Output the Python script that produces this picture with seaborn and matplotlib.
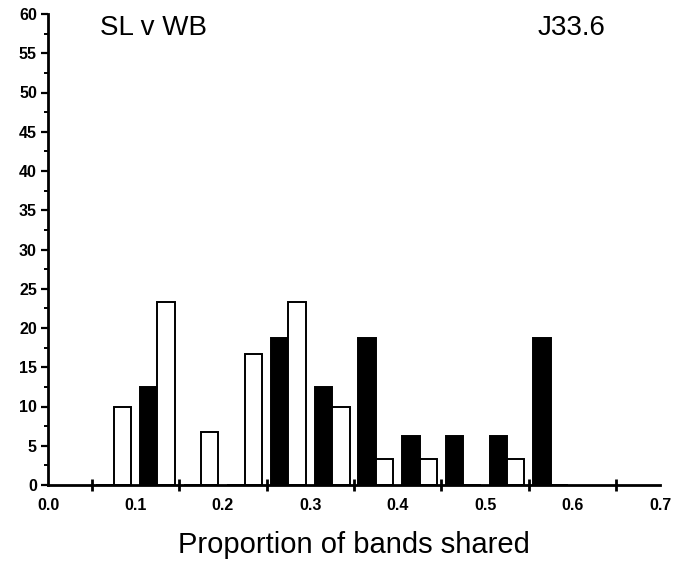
import matplotlib
matplotlib.use('Agg')
import matplotlib.pyplot as plt
from matplotlib.ticker import MultipleLocator
import seaborn as sns
import pandas as pd

# bin centres of the histogram (proportion of bands shared)
bin_centres = [0.075, 0.125, 0.175, 0.225, 0.275, 0.325, 0.375, 0.425, 0.475, 0.525, 0.575]
# percentage of pairs in each bin
black_pct = [0, 12.5, 0, 0, 18.75, 12.5, 18.75, 6.25, 6.25, 6.25, 18.75]
white_pct = [10, 23.3, 6.7, 16.7, 23.3, 10, 3.3, 3.3, 0, 3.3, 0]
groups = ['black', 'white']

x_ticks = [0.0, 0.1, 0.2, 0.3, 0.4, 0.5, 0.6, 0.7]
x_tick_labels = ['0.0', '0.1', '0.2', '0.3', '0.4', '0.5', '0.6', '0.7']

df = pd.DataFrame({
    'bin': bin_centres * 2,
    'pct': black_pct + white_pct,
    'group': [groups[0]] * len(bin_centres) + [groups[1]] * len(bin_centres),
})

sns.set_style('ticks', {'axes.edgecolor': 'black', 'text.color': 'black',
                        'xtick.color': 'black', 'ytick.color': 'black',
                        'axes.labelcolor': 'black'})
plt.rcParams['font.family'] = ['Liberation Sans', 'DejaVu Sans']

fig = plt.figure(figsize=(6.79, 5.61), dpi=100)
ax = fig.add_axes([48 / 679, 1 - 485 / 561, 612 / 679, 471 / 561])

sns.barplot(data=df, x='bin', y='pct', hue='group', hue_order=groups,
            palette={'black': 'black', 'white': 'white'},
            native_scale=True, errorbar=None, edgecolor='black',
            linewidth=1.4, legend=False, ax=ax)

ax.set_xlim(0, 0.7)
ax.set_ylim(0, 60)
ax.set_xticks(x_ticks)
ax.set_xticklabels(x_tick_labels)
ax.xaxis.set_minor_locator(MultipleLocator(0.1, offset=0.05))
ax.yaxis.set_major_locator(MultipleLocator(5))
ax.yaxis.set_minor_locator(MultipleLocator(2.5))

ax.tick_params(axis='x', which='major', length=0, pad=9, labelsize=11.5)
ax.tick_params(axis='x', which='minor', direction='inout', length=9, width=2)
ax.tick_params(axis='y', which='major', length=5, width=1.6, pad=3, labelsize=11.5)
ax.tick_params(axis='y', which='minor', length=3, width=1.4)
for lab in ax.get_xticklabels() + ax.get_yticklabels():
    lab.set_fontweight('bold')

sns.despine(ax=ax)
for side in ['left', 'bottom']:
    ax.spines[side].set_linewidth(2)

ax.set_ylabel('')
ax.set_xlabel('Proportion of bands shared', fontsize=21, va='center')
ax.xaxis.set_label_coords(0.5, -60 / 471)

fig.text(100 / 679, 1 - 35 / 561, 'SL v WB', fontsize=20, va='baseline')
fig.text(538 / 679, 1 - 35 / 561, 'J33.6', fontsize=20, va='baseline')

fig.savefig('out.png', dpi=100)
